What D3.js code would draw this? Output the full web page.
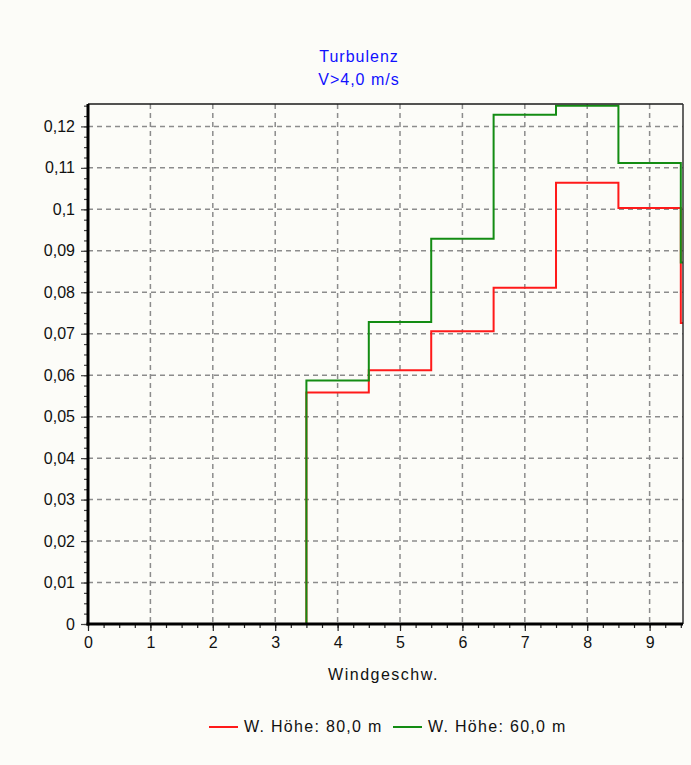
<!DOCTYPE html>
<html>
<head>
<meta charset="utf-8">
<script src="https://cdn.jsdelivr.net/npm/d3@7"></script>
<style>
  html, body { margin: 0; padding: 0; background: #fcfcf8; }
  svg { display: block; }
  text { font-family: "Liberation Sans", Arial, sans-serif; fill: #111; }
</style>
</head>
<body>
<script>
// Wind speed bins (bin centres, m/s); each bin spans centre ± 0.5
const windBins = [1, 2, 3, 4, 5, 6, 7, 8, 9, 10];
// Turbulence intensity per bin, hub height 80 m
const turb80 = [0, 0, 0, 0.0558, 0.0612, 0.0706, 0.0811, 0.1064, 0.1003, 0.0726];
// Turbulence intensity per bin, hub height 60 m
const turb60 = [0, 0, 0, 0.0587, 0.0728, 0.0929, 0.1228, 0.1250, 0.1112, 0.0872];

const xTicks = [0, 1, 2, 3, 4, 5, 6, 7, 8, 9];
const yTicks = [0, 0.01, 0.02, 0.03, 0.04, 0.05, 0.06, 0.07, 0.08, 0.09, 0.1, 0.11, 0.12];
const titleLines = ["Turbulenz", "V>4,0 m/s"];
const xLabel = "Windgeschw.";
const seriesNames = ["W. Höhe: 80,0 m", "W. Höhe: 60,0 m"];
const seriesColors = ["#ff1a1a", "#138c13"];

const W = 691, H = 765;
const plot = { left: 88, right: 683, top: 104, bottom: 624 };

const svg = d3.select("body").append("svg").attr("width", W).attr("height", H);

const x = d3.scaleLinear().domain([0, 9.535]).range([plot.left, plot.right]);
const y = d3.scaleLinear().domain([0, 0.1254]).range([plot.bottom, plot.top]);

const fmt = v => d3.format("~g")(+v.toFixed(4)).replace(".", ",");

// clip for series
svg.append("defs").append("clipPath").attr("id", "plotClip")
  .append("rect")
  .attr("x", plot.left).attr("y", plot.top - 2)
  .attr("width", plot.right - plot.left).attr("height", plot.bottom - plot.top + 2);

// dashed grid
const grid = svg.append("g")
  .attr("stroke", "#8c8c8c").attr("stroke-width", 1.5).attr("stroke-dasharray", "5,4");
grid.selectAll("line.v").data(xTicks.filter(d => d > 0)).join("line")
  .attr("class", "v")
  .attr("x1", d => x(d)).attr("x2", d => x(d))
  .attr("y1", plot.top).attr("y2", plot.bottom);
grid.selectAll("line.h").data(yTicks.filter(d => d > 0)).join("line")
  .attr("class", "h")
  .attr("x1", plot.left).attr("x2", plot.right)
  .attr("y1", d => y(d)).attr("y2", d => y(d));

// step series
const stepLine = d3.line().x(d => x(d[0])).y(d => y(d[1])).curve(d3.curveStepAfter);
function stepPoints(vals) {
  const pts = [[0, 0]];
  windBins.forEach((c, i) => pts.push([c - 0.5, vals[i]]));
  const last = windBins.length - 1;
  pts.push([windBins[last] + 0.5, vals[last]]);
  return pts;
}
const seriesG = svg.append("g").attr("clip-path", "url(#plotClip)");
[turb80, turb60].forEach((vals, i) => {
  seriesG.append("path")
    .attr("d", stepLine(stepPoints(vals)))
    .attr("fill", "none")
    .attr("stroke", seriesColors[i])
    .attr("stroke-width", 2);
});

// frame (top and right)
svg.append("line")
  .attr("x1", plot.left).attr("x2", plot.right)
  .attr("y1", plot.top).attr("y2", plot.top)
  .attr("stroke", "#1a1a1a").attr("stroke-width", 1.5);
svg.append("line")
  .attr("x1", plot.right).attr("x2", plot.right)
  .attr("y1", plot.top).attr("y2", plot.bottom)
  .attr("stroke", "#333").attr("stroke-width", 1.5);

// x axis
const xAxis = d3.axisBottom(x).tickValues(xTicks).tickSize(7).tickPadding(6)
  .tickFormat(d => fmt(d));
const xMinor = d3.axisBottom(x).tickValues(d3.range(0, 9.51, 0.25)).tickSize(4).tickFormat("");
const gxm = svg.append("g").attr("transform", `translate(0,${plot.bottom})`).call(xMinor);
const gx = svg.append("g").attr("transform", `translate(0,${plot.bottom})`).call(xAxis);
[gx, gxm].forEach(g => {
  g.select(".domain").remove();
  g.selectAll(".tick line").attr("stroke", "#222").attr("stroke-width", 1.2);
});
gx.selectAll("text").attr("font-size", 16).attr("fill", "#111")
  .attr("font-family", "'Liberation Sans', Arial, sans-serif");

// y axis
const yAxis = d3.axisLeft(y).tickValues(yTicks).tickSize(7).tickPadding(6)
  .tickFormat(d => fmt(d));
const yMinor = d3.axisLeft(y).tickValues(d3.range(0, 0.1251, 0.0025)).tickSize(4).tickFormat("");
const gym = svg.append("g").attr("transform", `translate(${plot.left},0)`).call(yMinor);
const gy = svg.append("g").attr("transform", `translate(${plot.left},0)`).call(yAxis);
[gy, gym].forEach(g => {
  g.select(".domain").remove();
  g.selectAll(".tick line").attr("stroke", "#444").attr("stroke-width", 1.2);
});
gy.selectAll("text").attr("font-size", 16).attr("fill", "#111")
  .attr("font-family", "'Liberation Sans', Arial, sans-serif");

// heavy axis lines
svg.append("line")
  .attr("x1", plot.left).attr("x2", plot.left)
  .attr("y1", plot.top).attr("y2", plot.bottom + 1.5)
  .attr("stroke", "#000").attr("stroke-width", 3);
svg.append("line")
  .attr("x1", plot.left - 1.5).attr("x2", plot.right)
  .attr("y1", plot.bottom).attr("y2", plot.bottom)
  .attr("stroke", "#000").attr("stroke-width", 3);

// title
svg.selectAll("text.title").data(titleLines).join("text")
  .attr("class", "title")
  .attr("x", 359).attr("y", (d, i) => 62 + i * 23)
  .attr("text-anchor", "middle")
  .attr("font-size", 16).attr("letter-spacing", "1px")
  .style("fill", "#1010ff")
  .text(d => d);

// x axis title
svg.append("text")
  .attr("x", (plot.left + plot.right) / 2 - 2).attr("y", 680)
  .attr("text-anchor", "middle")
  .attr("font-size", 16).attr("letter-spacing", "1.5px")
  .text(xLabel);

// legend
const legendX = [209, 393];
const legend = svg.append("g");
seriesNames.forEach((name, i) => {
  legend.append("line")
    .attr("x1", legendX[i]).attr("x2", legendX[i] + 29)
    .attr("y1", 727).attr("y2", 727)
    .attr("stroke", seriesColors[i]).attr("stroke-width", 2);
  legend.append("text")
    .attr("x", legendX[i] + 35).attr("y", 732)
    .attr("font-size", 16).attr("letter-spacing", "1.3px")
    .text(name);
});
</script>
</body>
</html>
